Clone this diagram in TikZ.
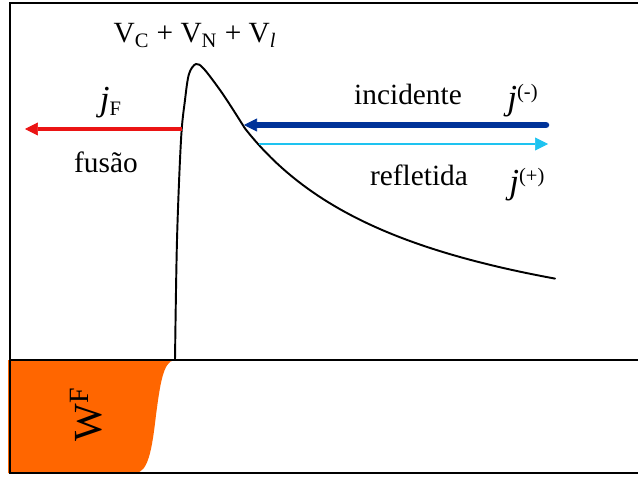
\documentclass[tikz,border=0pt]{standalone}
\usepackage{fontspec}
\setmainfont{Liberation Serif}
\usetikzlibrary{arrows.meta}
\definecolor{fluxred}{RGB}{235,20,20}
\definecolor{incblue}{RGB}{0,51,153}
\definecolor{refcyan}{RGB}{30,195,240}
\definecolor{wforange}{RGB}{255,102,0}
\newcommand{\jj}{{\fontsize{20}{20}\selectfont\textit{j}}}

\begin{document}
\begin{tikzpicture}[x=0.02cm, y=-0.02cm,
    lbl/.style={font=\fontsize{16.7}{20}\selectfont, inner sep=0pt},
    frame/.style={line width=1.1pt},
    flux/.style={line width=#1},
    tip/.style={-{Triangle[length=0.26cm, width=0.26cm, line width=0.4pt]}}
]
\useasboundingbox (0,0) rectangle (638,476);

% Wave function W^F
\fill[wforange] (8,360) -- (174,360) .. controls (163,362) and (160,385) .. (156,415)
    .. controls (152,450) and (148,473) .. (135,473) -- (8,473) -- cycle;

% Frame
\draw[frame] (638,3) -- (10,3) -- (10,473) -- (638,473);
\draw[frame] (10,360) -- (638,360);

% Potential barrier
\draw[line width=1.1pt, line cap=round] plot[smooth, tension=0.55] coordinates {(175,360) (177,240)
    (181,140) (185,100) (189,74) (196,64) (204,69) (220,90) (232,108) (245,128.5)};
\draw[line width=1.1pt, line cap=round] plot[domain=245:555, samples=60] (\x, {370.6-460/(\x/100-0.55)});

% Labels
\node[lbl, anchor=base] (pot) at (195,43) {V\textsubscript{C} + V\textsubscript{N} + V\textsubscript{\textit{l}}};
\node[lbl, anchor=base] (jf) at (111,111) {\jj\textsubscript{F}};
\node[lbl, anchor=base] (fus) at (106,173) {fusão};
\node[lbl, anchor=base] (inc) at (408,105) {incidente};
\node[lbl, anchor=base west] (jm) at (507,110) {\jj\textsuperscript{(-)}};
\node[lbl, anchor=base] (ref) at (419,185) {refletida};
\node[lbl, anchor=base west] (jp) at (509,194) {\jj\textsuperscript{(+)}};
\node[font=\fontsize{22.7}{26}\selectfont, rotate=90, inner sep=0pt] (wf) at (86,414) {W\textsuperscript{F}};

% Fluxes
\coordinate (fusR) at (182,129);
\coordinate (fusL) at (25,129);
\coordinate (incR) at (546,125);
\coordinate (incL) at (244,125);
\coordinate (refL) at (259,144);
\coordinate (refR) at (548,144);
\draw[tip, flux=2.2pt, fluxred] (fusR) -- (fusL);
\draw[tip, flux=3.7pt, incblue, line cap=round] (incR) -- (incL);
\draw[tip, flux=1.7pt, refcyan] (refL) -- (refR);

\end{tikzpicture}
\end{document}
